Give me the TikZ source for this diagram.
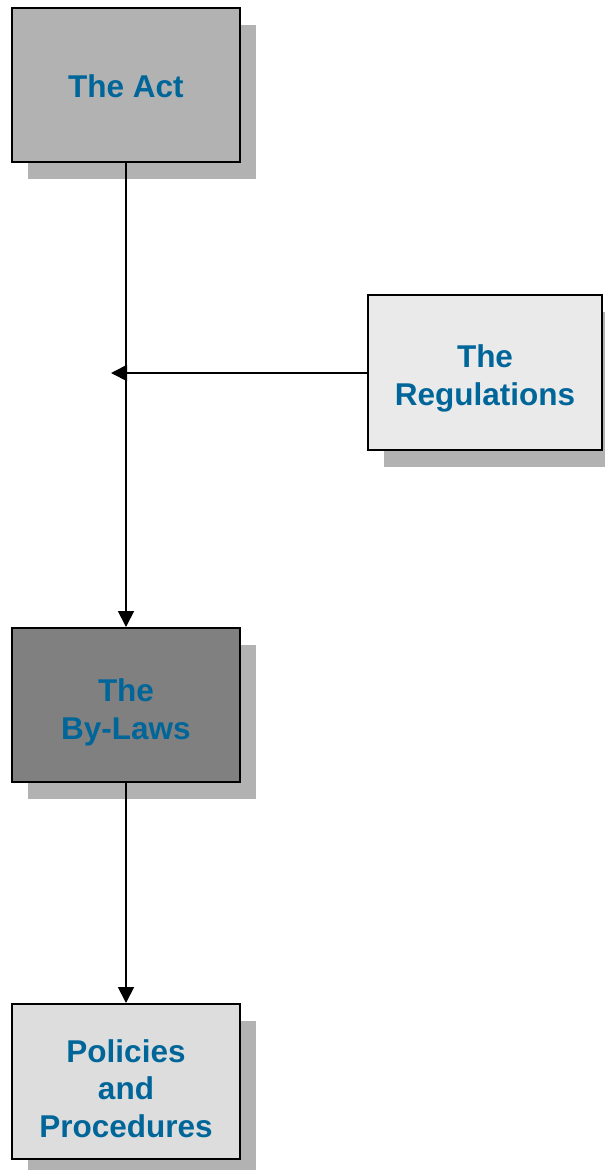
\documentclass[tikz,border=0pt]{standalone}
\usepackage{fontspec}
\setmainfont{Liberation Sans}
\usepackage{tikz}
\usetikzlibrary{positioning,shadows,arrows.meta}

\definecolor{textblue}{RGB}{0,102,153}
\definecolor{shadowgray}{RGB}{178,178,178}
\definecolor{actgray}{RGB}{178,178,178}
\definecolor{reggray}{RGB}{234,234,234}
\definecolor{bylawgray}{RGB}{128,128,128}
\definecolor{polgray}{RGB}{221,221,221}

% extra room above the first line, to set the text a little lower
\newcommand{\topgap}[1]{\rule{0pt}{#1}}

\begin{document}
\begin{tikzpicture}[x=1pt,y=-1pt,
  lawbox/.style={draw=black,line width=2pt,align=center,text=textblue,
    font=\fontsize{31.5}{37.5}\selectfont\bfseries,inner sep=0pt,
    minimum width=228pt,minimum height=154pt,
    drop shadow={shadow xshift=16pt,shadow yshift=-17pt,fill=shadowgray,opacity=1}},
  link/.style={line width=1.8pt,-{Triangle[length=16pt,width=16pt]}}]

\useasboundingbox (0,0) rectangle (605,1170);

\node[lawbox,fill=actgray] (act) at (126,85) {\topgap{25pt}The Act};
\node[lawbox,fill=reggray,minimum width=234pt,minimum height=155pt] (reg) at (485,372.5) {\topgap{35pt}The\\Regulations};
\node[lawbox,fill=bylawgray] (bylaws) at (126,705) {\topgap{38pt}The\\By-Laws};
\node[lawbox,fill=polgray,minimum height=155pt] (pol) at (126,1081.5) {\topgap{37pt}Policies\\and\\Procedures};

\coordinate (join) at (111,373);

\draw[link] (act)--(bylaws);
\draw[link] (reg.west |- join)--(join);
\draw[link] (bylaws)--(pol);

\end{tikzpicture}
\end{document}
